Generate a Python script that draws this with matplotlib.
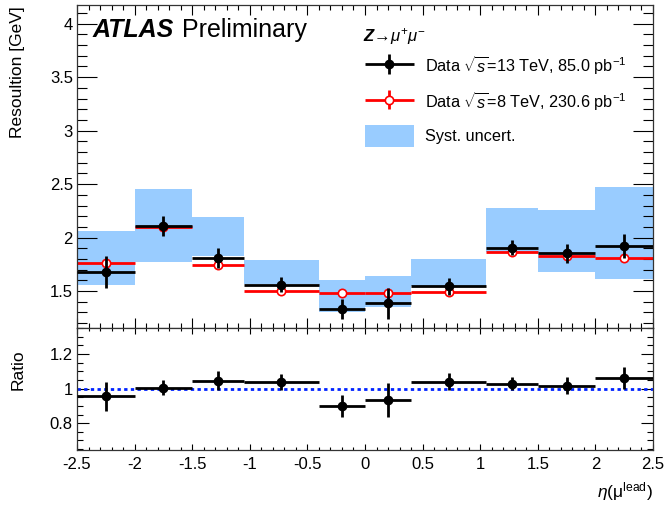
import numpy as np
import matplotlib
matplotlib.use('Agg')
import matplotlib.pyplot as plt
from matplotlib.patches import Patch
from matplotlib.legend_handler import HandlerErrorbar
from matplotlib.ticker import MultipleLocator, FuncFormatter

plt.rcParams['font.family'] = ['Liberation Sans', 'DejaVu Sans']
plt.rcParams['mathtext.fontset'] = 'custom'
plt.rcParams['mathtext.rm'] = 'Liberation Sans'
plt.rcParams['mathtext.it'] = 'Liberation Sans:italic'
plt.rcParams['mathtext.bf'] = 'Liberation Sans:bold'
plt.rcParams['mathtext.bfit'] = 'Liberation Sans:italic:bold'
plt.rcParams['axes.unicode_minus'] = False

# eta bins of the leading muon
eta_edges = [-2.5, -2.0, -1.5, -1.05, -0.4, 0.0, 0.4, 1.05, 1.5, 2.0, 2.5]

# Z -> mumu resolution [GeV], 13 TeV data
res_13 = [1.68, 2.11, 1.81, 1.56, 1.33, 1.385, 1.545, 1.906, 1.855, 1.92]
err_13 = [0.15, 0.095, 0.092, 0.07, 0.094, 0.144, 0.077, 0.072, 0.09, 0.113]

# 8 TeV data
res_8 = [1.763, 2.10, 1.74, 1.50, 1.48, 1.48, 1.49, 1.863, 1.83, 1.807]
err_8 = [0.02, 0.02, 0.02, 0.015, 0.02, 0.02, 0.015, 0.02, 0.02, 0.02]

# systematic band
syst_lo = [1.556, 1.775, 1.83, 1.57, 1.306, 1.353, 1.55, 1.865, 1.68, 1.61]
syst_hi = [2.0625, 2.45, 2.19, 1.79, 1.60, 1.641, 1.797, 2.28, 2.26, 2.478]

# 13 TeV / 8 TeV
ratio = [0.955, 1.004, 1.046, 1.039, 0.90, 0.934, 1.039, 1.029, 1.017, 1.062]
ratio_err = [0.082, 0.044, 0.055, 0.046, 0.062, 0.097, 0.05, 0.039, 0.05, 0.063]

edges = np.array(eta_edges)
centers = 0.5 * (edges[1:] + edges[:-1])
half = 0.5 * (edges[1:] - edges[:-1])

W, H = 667, 505
fig = plt.figure(figsize=(W / 100, H / 100), dpi=100)
left, right = 77 / W, 653 / W
y_split = 1 - 328 / H
ax = fig.add_axes([left, y_split, right - left, 1 - 5 / H - y_split])
ax_r = fig.add_axes([left, 1 - 450 / H, right - left, y_split - (1 - 450 / H)], sharex=ax)

fmt = FuncFormatter(lambda v, _: '%g' % round(v, 3))

# top panel
ax.bar(centers, np.array(syst_hi) - np.array(syst_lo), width=2 * half,
       bottom=syst_lo, color='#99ccff', linewidth=0, zorder=1)
h8 = ax.errorbar(centers, res_8, yerr=err_8, xerr=half, fmt='o', color='red',
                 mfc='white', mec='red', mew=1.2, ms=6, elinewidth=2,
                 capsize=0, zorder=2)
h13 = ax.errorbar(centers, res_13, yerr=err_13, xerr=half, fmt='o',
                  color='black', ms=6, elinewidth=2, capsize=0, zorder=3)
ax.set_xlim(-2.5, 2.5)
ax.set_ylim(1.155, 4.175)
ax.yaxis.set_major_locator(MultipleLocator(0.5))
ax.yaxis.set_minor_locator(MultipleLocator(0.1))
ax.xaxis.set_major_locator(MultipleLocator(0.5))
ax.xaxis.set_minor_locator(MultipleLocator(0.1))
ax.yaxis.set_major_formatter(fmt)
ax.tick_params(axis='both', which='both', direction='in', top=True,
               right=True, labelbottom=False, labelsize=12, pad=3)
ax.tick_params(axis='y', which='major', length=14.4, width=0.8)
ax.tick_params(axis='y', which='minor', length=7.2, width=0.8)
ax.tick_params(axis='x', which='major', length=7.2, width=0.8)
ax.tick_params(axis='x', which='minor', length=3.6, width=0.8)

syst_patch = Patch(facecolor='#99ccff', edgecolor='none')
err_handler = HandlerErrorbar(xerr_size=1.5, yerr_size=0.6, numpoints=1)
ax.legend([h13, h8, syst_patch],
          [r'Data $\sqrt{s}$=13 TeV, 85.0 pb$^{\mathregular{-1}}$',
           r'Data $\sqrt{s}$=8 TeV, 230.6 pb$^{\mathregular{-1}}$',
           'Syst. uncert.'],
          handler_map={type(h13): err_handler},
          loc='upper left', bbox_to_anchor=(365 / W, 1 - 54 / H),
          bbox_transform=fig.transFigure, frameon=False, fontsize=11.7,
          handlelength=3.0, handleheight=1.65, handletextpad=0.72,
          labelspacing=0.75, borderpad=0, borderaxespad=0)

fig.text(93 / W, 1 - 36.7 / H, 'ATLAS', fontsize=18, fontweight='bold',
         fontstyle='italic', va='baseline')
fig.text(181.7 / W, 1 - 36.7 / H, 'Preliminary', fontsize=18, va='baseline')
fig.text(363 / W, 1 - 36.5 / H, r'$\mathbfit{Z}$→$\mu^{+}\mu^{-}$',
         fontsize=12, va='center')

# ratio panel
ax_r.errorbar(centers, ratio, yerr=ratio_err, xerr=half, fmt='o',
              color='black', ms=6, elinewidth=2, capsize=0, zorder=3)
ax_r.axhline(1.0, color='#0022ff', lw=2, ls=(0, (1.2, 1.2)), zorder=2)
ax_r.set_ylim(0.645, 1.35)
ax_r.yaxis.set_major_locator(MultipleLocator(0.2))
ax_r.yaxis.set_minor_locator(MultipleLocator(0.05))
ax_r.yaxis.set_major_formatter(fmt)
ax_r.xaxis.set_major_formatter(fmt)
ax_r.tick_params(axis='both', which='both', direction='in', top=True,
                 right=True, labelsize=12, pad=3)
ax_r.tick_params(axis='x', which='both', pad=5)
ax_r.tick_params(axis='y', which='major', length=8.6, width=0.8)
ax_r.tick_params(axis='y', which='minor', length=4.3, width=0.8)
ax_r.tick_params(axis='x', which='major', length=4.3, width=0.8)
ax_r.tick_params(axis='x', which='minor', length=2.5, width=0.8)

for a in (ax, ax_r):
    for s in a.spines.values():
        s.set_linewidth(0.9)
        s.set_color('#333333')

fig.text(18 / W, 1 - 6 / H, 'Resoultion [GeV]', fontsize=12.5,
         rotation=90, ha='center', va='top')
fig.text(18 / W, 1 - 370 / H, 'Ratio', fontsize=12.5, rotation=90,
         ha='center', va='center')
fig.text(right, 1 - 492 / H, r'$\eta$(μ$^{\mathregular{lead}}$)', fontsize=12.5,
         ha='right', va='center')

fig.savefig('out.png', dpi=100)
